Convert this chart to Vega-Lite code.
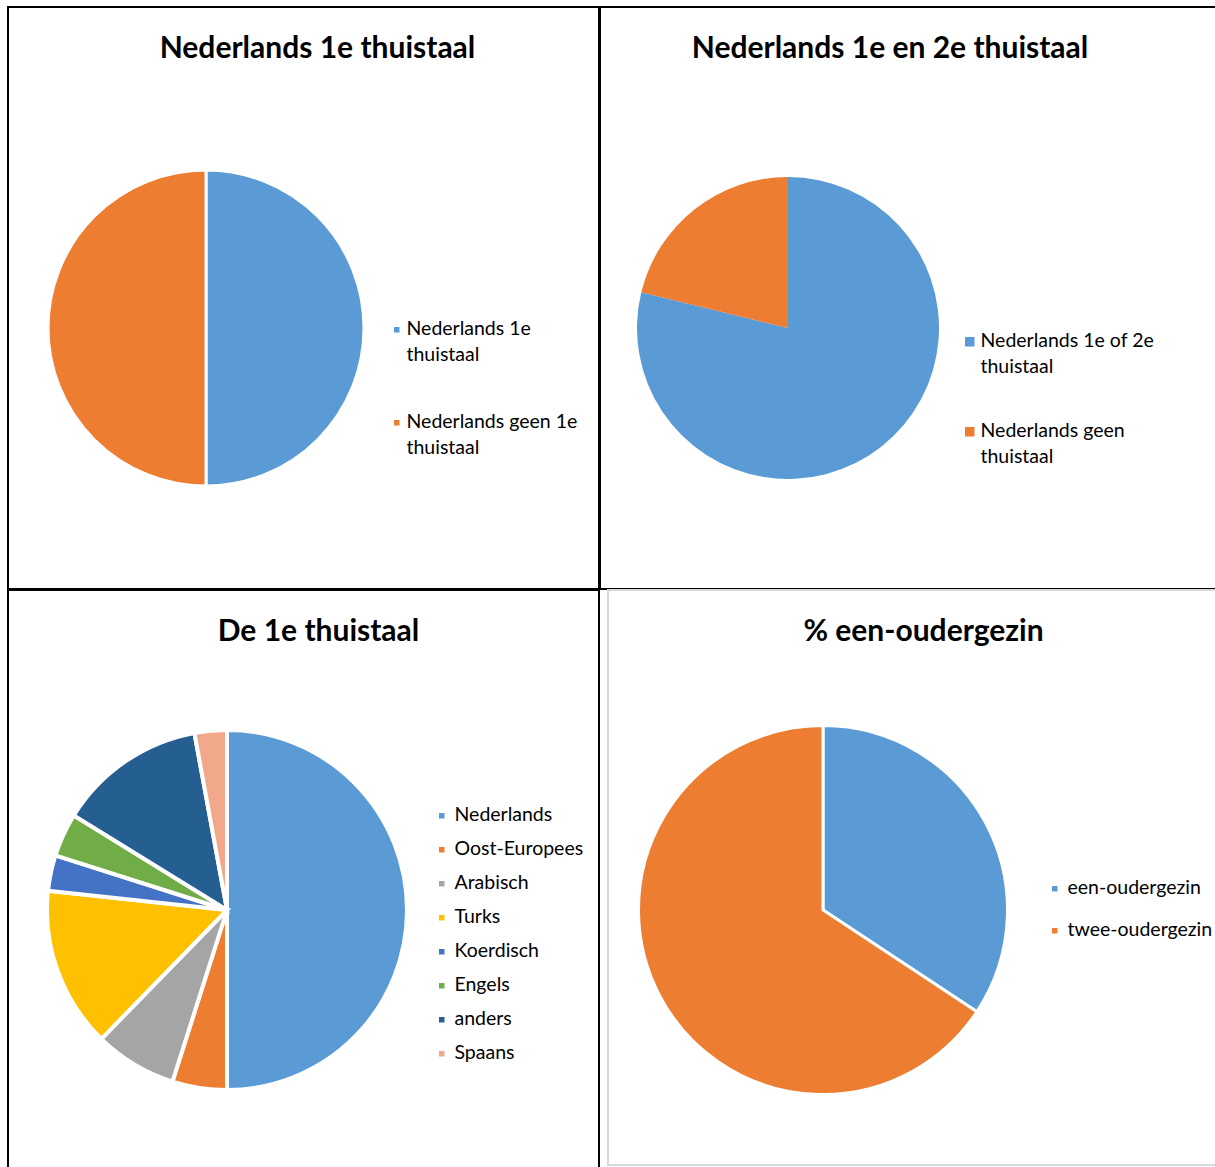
{
  "$schema": "https://vega.github.io/schema/vega-lite/v6.json",
  "background": "white",
  "padding": {"left": 7, "top": 6, "right": 0, "bottom": 0},
  "spacing": -2,
  "config": {
    "font": "Lato",
    "title": {"font": "Lato", "fontSize": 30, "fontWeight": "bold", "color": "#000000", "anchor": "middle", "frame": "group", "baseline": "alphabetic"},
    "legend": {"labelFont": "Lato", "labelFontSize": 19.5, "labelColor": "#000000", "symbolType": "square", "padding": 0, "labelLimit": 400, "title": null, "orient": "none", "labelBaseline": "alphabetic"},
    "style": {"guide-label": {"lineHeight": 26, "dy": 5}},
    "arc": {"stroke": "white"}
  },
  "datasets": {
    "p1": [
      {"categorie": "Nederlands 1e thuistaal", "aandeel": 50, "volgorde": 1},
      {"categorie": "Nederlands geen 1e thuistaal", "aandeel": 50, "volgorde": 2}
    ],
    "p2": [
      {"categorie": "Nederlands 1e of 2e thuistaal", "aandeel": 78.8, "volgorde": 1},
      {"categorie": "Nederlands geen thuistaal", "aandeel": 21.2, "volgorde": 2}
    ],
    "p3": [
      {"categorie": "Nederlands", "aandeel": 50, "volgorde": 1},
      {"categorie": "Oost-Europees", "aandeel": 4.9, "volgorde": 2},
      {"categorie": "Arabisch", "aandeel": 7.4, "volgorde": 3},
      {"categorie": "Turks", "aandeel": 14.4, "volgorde": 4},
      {"categorie": "Koerdisch", "aandeel": 3.2, "volgorde": 5},
      {"categorie": "Engels", "aandeel": 3.9, "volgorde": 6},
      {"categorie": "anders", "aandeel": 13.3, "volgorde": 7},
      {"categorie": "Spaans", "aandeel": 2.9, "volgorde": 8}
    ],
    "p4": [
      {"categorie": "een-oudergezin", "aandeel": 34.3, "volgorde": 1},
      {"categorie": "twee-oudergezin", "aandeel": 65.7, "volgorde": 2}
    ]
  },
  "resolve": {"scale": {"color": "independent", "theta": "independent"}, "legend": {"color": "independent"}},
  "vconcat": [
    {
      "spacing": -2,
      "resolve": {"scale": {"color": "independent", "theta": "independent"}, "legend": {"color": "independent"}},
      "hconcat": [
        {
          "width": 591, "height": 582,
          "view": {"stroke": "#000000", "strokeWidth": 2},
          "title": {"text": "Nederlands 1e thuistaal", "offset": -57, "dx": 14},
          "data": {"name": "p1"},
          "mark": {"type": "arc", "radius": 158, "x": 198, "y": 321, "strokeWidth": 3},
          "encoding": {
            "theta": {"field": "aandeel", "type": "quantitative", "stack": true},
            "order": {"field": "volgorde", "type": "quantitative"},
            "color": {"field": "categorie", "type": "nominal", "sort": null,
              "scale": {"range": ["#5B9BD5", "#ED7D31"]},
              "legend": {"legendX": 379, "legendY": 313, "symbolSize": 49, "labelOffset": 0, "rowPadding": 46,
                "labelExpr": "[slice(datum.label, 0, lastindexof(datum.label, ' ')), slice(datum.label, lastindexof(datum.label, ' ') + 1)]"}}
          }
        },
        {
          "width": 620, "height": 582,
          "view": {"stroke": "#000000", "strokeWidth": 2},
          "title": {"text": "Nederlands 1e en 2e thuistaal", "offset": -57, "dx": -20},
          "data": {"name": "p2"},
          "mark": {"type": "arc", "radius": 151, "x": 188, "y": 321, "strokeWidth": 0},
          "encoding": {
            "theta": {"field": "aandeel", "type": "quantitative", "stack": true},
            "order": {"field": "volgorde", "type": "quantitative"},
            "color": {"field": "categorie", "type": "nominal", "sort": null,
              "scale": {"range": ["#5B9BD5", "#ED7D31"]},
              "legend": {"legendX": 360, "legendY": 325, "symbolSize": 121, "labelOffset": 1, "rowPadding": 43,
                "labelExpr": "[slice(datum.label, 0, lastindexof(datum.label, ' ')), slice(datum.label, lastindexof(datum.label, ' ') + 1)]"}}
          }
        }
      ]
    },
    {
      "spacing": 7,
      "resolve": {"scale": {"color": "independent", "theta": "independent"}, "legend": {"color": "independent"}},
      "hconcat": [
        {
          "width": 591, "height": 582,
          "view": {"stroke": "#000000", "strokeWidth": 2},
          "title": {"text": "De 1e thuistaal", "offset": -57, "dx": 15},
          "data": {"name": "p3"},
          "mark": {"type": "arc", "radius": 180, "x": 219, "y": 320, "strokeWidth": 4},
          "encoding": {
            "theta": {"field": "aandeel", "type": "quantitative", "stack": true},
            "order": {"field": "volgorde", "type": "quantitative"},
            "color": {"field": "categorie", "type": "nominal", "sort": null,
              "scale": {"range": ["#5B9BD5", "#ED7D31", "#A5A5A5", "#FFC000", "#4472C4", "#70AD47", "#255E91", "#F1A88B"]},
              "legend": {"legendX": 424, "legendY": 216, "symbolSize": 49, "labelOffset": 3, "rowPadding": 13}}
          }
        },
        {
          "width": 615, "height": 575,
          "view": {"stroke": "#D9D9D9", "strokeWidth": 2},
          "title": {"text": "% een-oudergezin", "offset": -57, "dx": 8},
          "data": {"name": "p4"},
          "mark": {"type": "arc", "radius": 184.5, "x": 215, "y": 320, "strokeWidth": 3},
          "encoding": {
            "theta": {"field": "aandeel", "type": "quantitative", "stack": true},
            "order": {"field": "volgorde", "type": "quantitative"},
            "color": {"field": "categorie", "type": "nominal", "sort": null,
              "scale": {"range": ["#5B9BD5", "#ED7D31"]},
              "legend": {"legendX": 437, "legendY": 289, "symbolSize": 49, "labelOffset": 3, "rowPadding": 21}}
          }
        }
      ]
    }
  ]
}
